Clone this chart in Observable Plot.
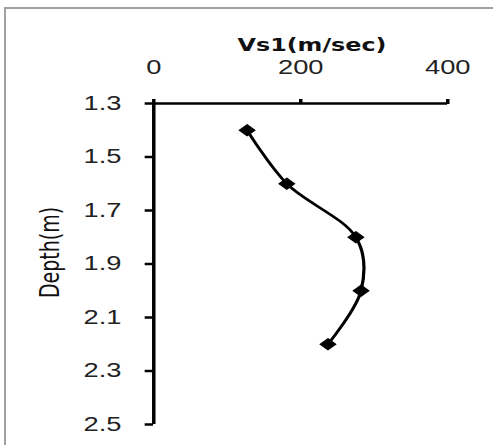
<!DOCTYPE html>
<html><head><meta charset="utf-8">
<script src="https://cdn.jsdelivr.net/npm/d3@7"></script>
<script src="https://cdn.jsdelivr.net/npm/@observablehq/plot@0.6"></script>
<style>
html,body{margin:0;padding:0;background:#fff;overflow:hidden;}
#frame{position:absolute;left:4px;top:7px;width:600px;height:600px;border:2px solid #a0a0a0;box-sizing:border-box;}
#chart{position:absolute;left:0;top:0;}
</style></head>
<body>
<div id="frame"></div>
<div id="chart"></div>
<script>
const depths = [1.4, 1.6, 1.8, 2.0, 2.2];
const vs1 = [127, 181, 275, 282, 237];
const xTicks = [0, 200, 400];
const yTicks = [1.3, 1.5, 1.7, 1.9, 2.1, 2.3, 2.5];
const xTitle = "Vs1(m/sec)";
const yTitle = "Depth(m)";

const data = depths.map((d, i) => ({depth: d, vs: vs1[i]}));

// the reference is horizontally stretched; draw narrow then stretch to 493px
const W = 352, H = 445, OUTW = 493;

const chart = Plot.plot({
  width: W,
  height: H,
  marginLeft: 109.3,
  marginRight: 32.8,
  marginTop: 103,
  marginBottom: 21,
  style: {background: "transparent"},
  x: {domain: [0, 400]},
  y: {domain: [1.3, 2.5], reverse: true},
  marks: [
    Plot.axisX({anchor: "top", ticks: xTicks, tickSize: 5, tickPadding: 25, label: null, tickFormat: d => String(d),
      fontFamily: "Liberation Sans", fontSize: 19.5, fill: "#222", stroke: "#000", strokeWidth: 2.5}),
    Plot.axisY({anchor: "left", ticks: yTicks, tickSize: 6, tickPadding: 17, label: null, tickFormat: d => d.toFixed(1),
      fontFamily: "Liberation Sans", fontSize: 19.5, fill: "#222", stroke: "#000", strokeWidth: 2.5}),
    Plot.ruleY([1.3], {stroke: "#000", strokeWidth: 2.5}),
    Plot.ruleX([0], {stroke: "#000", strokeWidth: 2.5}),
    Plot.line(data, {x: "vs", y: "depth", curve: "catmull-rom", stroke: "#000", strokeWidth: 2.3}),
    Plot.dot(data, {x: "vs", y: "depth", symbol: "diamond2", r: 5, fill: "#000", stroke: "#000", strokeWidth: 1}),
    Plot.text([xTitle], {frameAnchor: "top", dx: 8, dy: -65, text: d => d, fontFamily: "DejaVu Sans", fontWeight: "bold", fontSize: 17, fill: "#111"}),
    Plot.text([yTitle], {frameAnchor: "left", dx: -74, dy: -11.5, rotate: -90, textAnchor: "middle", text: d => d, fontFamily: "DejaVu Sans", fontSize: 19, fill: "#111"})
  ]
});
chart.setAttribute("width", OUTW);
chart.setAttribute("height", H);
chart.setAttribute("viewBox", `0 0 ${W} ${H}`);
chart.setAttribute("preserveAspectRatio", "none");
chart.style.width = OUTW + "px";
chart.style.maxWidth = "none";
chart.style.height = H + "px";
document.getElementById("chart").appendChild(chart);
</script>
</body></html>
